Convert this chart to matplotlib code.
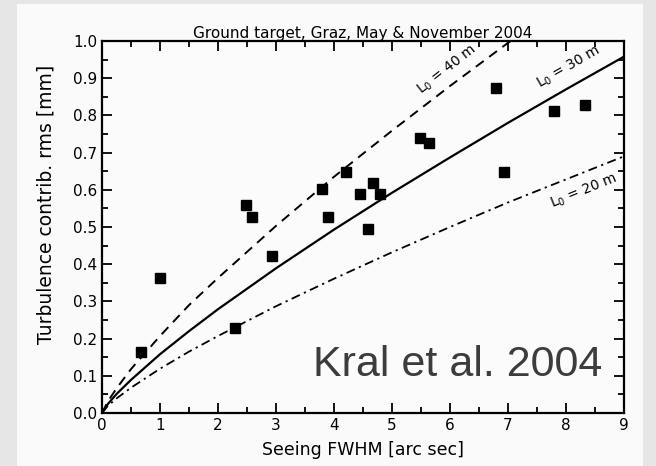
import matplotlib
matplotlib.use('Agg')
import matplotlib.pyplot as plt
from matplotlib.patches import Rectangle
from matplotlib.ticker import MultipleLocator

plt.rcParams['font.family'] = ['DejaVu Sans']

# measured points
seeing = [0.68, 1.0, 2.29, 2.48, 2.59, 2.93, 3.79, 3.90, 4.21, 4.45, 4.59,
          4.68, 4.79, 5.48, 5.64, 6.79, 6.93, 7.80, 8.33]
turb = [0.165, 0.363, 0.228, 0.558, 0.528, 0.422, 0.603, 0.527, 0.648, 0.590, 0.495,
        0.617, 0.590, 0.740, 0.725, 0.875, 0.648, 0.812, 0.828]

# model curves
curve_x = [0.0, 0.1, 0.25, 0.5, 1, 1.5, 2, 3, 4, 5, 6, 7, 8, 9]
l0_30 = [0.0, 0.024, 0.051, 0.089, 0.158, 0.22, 0.279, 0.389, 0.493, 0.592, 0.687, 0.780, 0.870, 0.958]
l0_20 = [0.0, 0.019, 0.039, 0.068, 0.119, 0.165, 0.207, 0.287, 0.361, 0.432, 0.500, 0.566, 0.628, 0.690]
l0_40_x = [0.0, 0.1, 0.25, 0.5, 1, 1.5, 2, 3, 4, 5, 6, 7, 7.05]
l0_40 = [0.0, 0.031, 0.066, 0.118, 0.207, 0.29, 0.363, 0.503, 0.635, 0.759, 0.879, 0.995, 1.0]

fig = plt.figure(figsize=(6.56, 4.66), dpi=100, facecolor='#e6e6e6')
fig.patches.append(Rectangle((17 / 656, 0), 626 / 656, 462 / 466, transform=fig.transFigure,
                             facecolor='#fafafa', edgecolor='none', zorder=-10))
ax = fig.add_axes([102 / 656, 1 - 413 / 466, 522 / 656, 372 / 466])
ax.set_zorder(1)
ax.set_facecolor('#fbfbfb')

ax.plot(curve_x, l0_30, '-', color='black', lw=1.6)
ax.plot(l0_40_x, l0_40, color='black', lw=1.4, dashes=(5, 3.5))
ax.plot(curve_x, l0_20, color='black', lw=1.3, dashes=(5, 2.5, 1.2, 2.5))
ax.plot(seeing, turb, 's', color='black', ms=7)

ax.text(5.95, 0.922, r'$\mathregular{L_0}$ = 40 m', rotation=38, ha='center', va='center', fontsize=10)
ax.text(8.05, 0.931, r'$\mathregular{L_0}$ = 30 m', rotation=30, ha='center', va='center', fontsize=10)
ax.text(8.31, 0.597, r'$\mathregular{L_0}$ = 20 m', rotation=22, ha='center', va='center', fontsize=10)

ax.set_xlim(0, 9)
ax.set_ylim(0, 1.0)
ax.xaxis.set_major_locator(MultipleLocator(1))
ax.xaxis.set_minor_locator(MultipleLocator(0.5))
ax.yaxis.set_major_locator(MultipleLocator(0.1))
ax.yaxis.set_minor_locator(MultipleLocator(0.05))
ax.set_yticks(ax.get_yticks())
ax.set_yticklabels(['%.1f' % v for v in ax.get_yticks()])
ax.set_ylim(0, 1.0)
ax.tick_params(which='both', direction='in', top=True, right=True, labelsize=11, width=1.3)
ax.tick_params(which='major', length=7)
ax.tick_params(which='minor', length=4)
for s in ax.spines.values():
    s.set_linewidth(1.6)

ax.set_title('Ground target, Graz, May & November 2004', fontsize=11, pad=2)
ax.set_xlabel('Seeing FWHM [arc sec]', fontsize=12.5, labelpad=6)
ax.set_ylabel('Turbulence contrib. rms [mm]', fontsize=13.5)
ax.yaxis.set_label_coords(-0.09, 0.562)

fig.text(602 / 656, 1 - 376 / 466, 'Kral et al. 2004', ha='right', va='baseline',
         fontsize=31, color='#3c3c3c', family='Liberation Sans', zorder=5)

fig.savefig('out.png', dpi=100, facecolor=fig.get_facecolor())
